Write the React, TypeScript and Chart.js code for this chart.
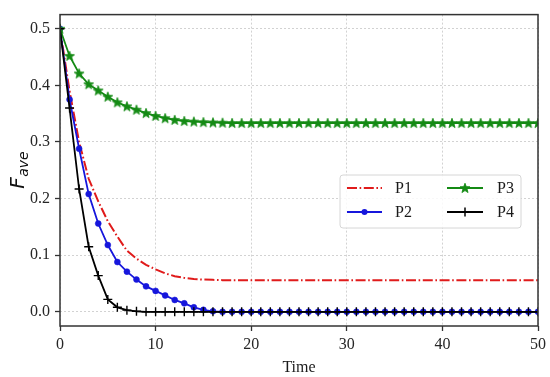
import React, { useEffect, useRef } from "react";
import { Chart, registerables } from "chart.js";

Chart.register(...registerables);

const time = [
  0, 1, 2, 3, 4, 5, 6, 7, 8, 9, 10, 11, 12, 13, 14, 15, 16, 17, 18, 19, 20, 21, 22, 23, 24, 25,
  26, 27, 28, 29, 30, 31, 32, 33, 34, 35, 36, 37, 38, 39, 40, 41, 42, 43, 44, 45, 46, 47, 48, 49, 50,
];

const p1 = [
  0.5, 0.39, 0.3, 0.235, 0.195, 0.16, 0.133, 0.108, 0.094, 0.083, 0.075, 0.068, 0.063, 0.06, 0.058,
  0.057, 0.0565, 0.056, 0.056, 0.056, 0.056, 0.056, 0.056, 0.056, 0.056, 0.056, 0.056, 0.056, 0.056,
  0.056, 0.056, 0.056, 0.056, 0.056, 0.056, 0.056, 0.056, 0.056, 0.056, 0.056, 0.056, 0.056, 0.056,
  0.056, 0.056, 0.056, 0.056, 0.056, 0.056, 0.056, 0.056,
];

const p2 = [
  0.5, 0.375, 0.288, 0.208, 0.156, 0.118, 0.088, 0.071, 0.057, 0.045, 0.037, 0.029, 0.021, 0.015,
  0.008, 0.0035, 0.001, 0, 0, 0, 0, 0, 0, 0, 0, 0, 0, 0, 0, 0, 0, 0, 0, 0, 0, 0, 0, 0, 0, 0, 0, 0,
  0, 0, 0, 0, 0, 0, 0, 0, 0,
];

const p3 = [
  0.5, 0.452, 0.421, 0.402, 0.391, 0.38, 0.37, 0.363, 0.357, 0.351, 0.346, 0.342, 0.339, 0.337,
  0.336, 0.335, 0.3345, 0.334, 0.3335, 0.3335, 0.3335, 0.3335, 0.3335, 0.3335, 0.3335, 0.3335,
  0.3335, 0.3335, 0.3335, 0.3335, 0.3335, 0.3335, 0.3335, 0.3335, 0.3335, 0.3335, 0.3335, 0.3335,
  0.3335, 0.3335, 0.3335, 0.3335, 0.3335, 0.3335, 0.3335, 0.3335, 0.3335, 0.3335, 0.3335, 0.3335,
  0.3335,
];

const p4 = [
  0.5, 0.36, 0.217, 0.115, 0.064, 0.022, 0.008, 0.003, 0.001, 0, 0, 0, 0, 0, 0, 0, 0, 0, 0, 0, 0,
  0, 0, 0, 0, 0, 0, 0, 0, 0, 0, 0, 0, 0, 0, 0, 0, 0, 0, 0, 0, 0, 0, 0, 0, 0, 0, 0, 0, 0, 0,
];

const seriesNames = ["P1", "P2", "P3", "P4"];
const xTicks = [0, 10, 20, 30, 40, 50];
const yTicks = [0.0, 0.1, 0.2, 0.3, 0.4, 0.5];
const xTitle = "Time";
const yTitleMain = "F";
const yTitleSub = "ave";

const RED = "#e01b1b";
const BLUE = "#1616dc";
const GREEN = "#148a14";
const BLACK = "#000000";
const SERIF = '"Liberation Serif", "Times New Roman", serif';
const P1_DASH = [10, 2.6, 1.6, 2.6];

function starPath(ctx: CanvasRenderingContext2D, cx: number, cy: number, ro: number, ri: number) {
  ctx.beginPath();
  for (let k = 0; k < 10; k++) {
    const r = k % 2 === 0 ? ro : ri;
    const a = -Math.PI / 2 + (k * Math.PI) / 5;
    const px = cx + r * Math.cos(a);
    const py = cy + r * Math.sin(a);
    if (k === 0) ctx.moveTo(px, py);
    else ctx.lineTo(px, py);
  }
  ctx.closePath();
}

function makeStar(color: string) {
  const c = document.createElement("canvas");
  c.width = 12;
  c.height = 12;
  const g = c.getContext("2d")!;
  starPath(g, 6, 6.4, 5.2, 2.2);
  g.fillStyle = color;
  g.fill();
  g.strokeStyle = color;
  g.lineWidth = 0.8;
  g.stroke();
  return c;
}

export default function App() {
  const ref = useRef<HTMLCanvasElement>(null);

  useEffect(() => {
    if (!ref.current) return;
    const star = makeStar(GREEN);

    const framePlugin = {
      id: "frame",
      afterDatasetsDraw(chart: any) {
        const { ctx, chartArea } = chart;
        const { left, top, right, bottom } = chartArea;
        ctx.save();
        ctx.strokeStyle = "#333333";
        ctx.lineWidth = 1.5;
        ctx.setLineDash([]);
        ctx.strokeRect(left, top, right - left, bottom - top);
        ctx.restore();
      },
    };

    const yTitlePlugin = {
      id: "ytitle",
      afterDraw(chart: any) {
        const { ctx, chartArea } = chart;
        const cy = (chartArea.top + chartArea.bottom) / 2;
        ctx.save();
        const mainFont = 'italic 20px "DejaVu Sans", sans-serif';
        const subFont = 'italic 14px "DejaVu Sans", sans-serif';
        ctx.font = mainFont;
        const wF = ctx.measureText(yTitleMain).width;
        ctx.font = subFont;
        const wS = ctx.measureText(yTitleSub).width;
        const total = wF + wS;
        ctx.translate(24, cy);
        ctx.rotate(-Math.PI / 2);
        ctx.fillStyle = "#111";
        ctx.textBaseline = "alphabetic";
        ctx.textAlign = "left";
        ctx.font = mainFont;
        ctx.fillText(yTitleMain, -total / 2, 0);
        ctx.font = subFont;
        ctx.fillText(yTitleSub, -total / 2 + wF + 0.5, 3.5);
        ctx.restore();
      },
    };

    const legendPlugin = {
      id: "customLegend",
      afterDraw(chart: any) {
        const { ctx } = chart;
        ctx.save();
        const bx = 340, by = 175, bw = 181, bh = 53, r = 3;
        ctx.beginPath();
        ctx.moveTo(bx + r, by);
        ctx.lineTo(bx + bw - r, by);
        ctx.quadraticCurveTo(bx + bw, by, bx + bw, by + r);
        ctx.lineTo(bx + bw, by + bh - r);
        ctx.quadraticCurveTo(bx + bw, by + bh, bx + bw - r, by + bh);
        ctx.lineTo(bx + r, by + bh);
        ctx.quadraticCurveTo(bx, by + bh, bx, by + bh - r);
        ctx.lineTo(bx, by + r);
        ctx.quadraticCurveTo(bx, by, bx + r, by);
        ctx.closePath();
        ctx.fillStyle = "rgba(255,255,255,0.85)";
        ctx.fill();
        ctx.strokeStyle = "#d6d6d6";
        ctx.lineWidth = 1;
        ctx.stroke();

        const rows = [188, 212];
        const lineX = [[347, 382], [447, 483]];
        const textX = [395, 497];
        const entries = [
          { name: seriesNames[0], color: RED, col: 0, row: 0, kind: "dash" },
          { name: seriesNames[1], color: BLUE, col: 0, row: 1, kind: "circle" },
          { name: seriesNames[2], color: GREEN, col: 1, row: 0, kind: "star" },
          { name: seriesNames[3], color: BLACK, col: 1, row: 1, kind: "plus" },
        ];
        entries.forEach((e) => {
          const y = rows[e.row];
          const [x1, x2] = lineX[e.col];
          const xm = (x1 + x2) / 2;
          ctx.strokeStyle = e.color;
          ctx.lineWidth = 1.8;
          ctx.setLineDash(e.kind === "dash" ? P1_DASH : []);
          ctx.beginPath();
          ctx.moveTo(x1, y);
          ctx.lineTo(x2, y);
          ctx.stroke();
          ctx.setLineDash([]);
          if (e.kind === "circle") {
            ctx.beginPath();
            ctx.arc(xm, y, 3, 0, Math.PI * 2);
            ctx.fillStyle = e.color;
            ctx.fill();
          } else if (e.kind === "star") {
            ctx.drawImage(star, xm - 6, y - 6);
          } else if (e.kind === "plus") {
            ctx.lineWidth = 1.5;
            ctx.beginPath();
            ctx.moveTo(xm, y - 4.5);
            ctx.lineTo(xm, y + 4.5);
            ctx.stroke();
          }
          ctx.fillStyle = "#1a1a1a";
          ctx.font = `16px ${SERIF}`;
          ctx.textBaseline = "middle";
          ctx.textAlign = "left";
          ctx.fillText(e.name, textX[e.col], y + 1);
        });
        ctx.restore();
      },
    };

    const toPts = (arr: number[]) => time.map((t, i) => ({ x: t, y: arr[i] }));

    const gridCommon = {
      color: "#d2d2d2",
      lineWidth: 1,
      drawTicks: true,
      tickLength: 5,
      tickColor: "#333333",
      tickWidth: 1.3,
      tickBorderDash: [],
    };

    const chart = new Chart(ref.current, {
      type: "line",
      data: {
        datasets: [
          {
            label: seriesNames[0],
            data: toPts(p1),
            borderColor: RED,
            backgroundColor: RED,
            borderWidth: 2,
            borderDash: P1_DASH,
            pointRadius: 0,
            order: 4,
          },
          {
            label: seriesNames[1],
            data: toPts(p2),
            borderColor: BLUE,
            backgroundColor: BLUE,
            borderWidth: 1.8,
            pointStyle: "circle",
            pointRadius: 3,
            pointBackgroundColor: BLUE,
            pointBorderColor: BLUE,
            pointBorderWidth: 0.5,
            order: 3,
          },
          {
            label: seriesNames[2],
            data: toPts(p3),
            borderColor: GREEN,
            backgroundColor: GREEN,
            borderWidth: 1.8,
            pointStyle: star as any,
            pointRadius: 5,
            order: 2,
          },
          {
            label: seriesNames[3],
            data: toPts(p4),
            borderColor: BLACK,
            backgroundColor: BLACK,
            borderWidth: 1.8,
            pointStyle: "cross",
            pointRadius: 4.5,
            pointBorderColor: BLACK,
            pointBorderWidth: 1.4,
            order: 1,
          },
        ],
      },
      options: {
        responsive: false,
        animation: false,
        devicePixelRatio: 1,
        events: [],
        layout: { padding: { top: 8, right: 12, left: 0, bottom: 0 } },
        plugins: { legend: { display: false }, tooltip: { enabled: false } },
        scales: {
          x: {
            type: "linear",
            min: 0,
            max: 50,
            afterBuildTicks: (s: any) => {
              s.ticks = xTicks.map((v) => ({ value: v }));
            },
            afterFit: (s: any) => {
              s.height = 51;
            },
            ticks: {
              font: { family: SERIF, size: 16 },
              color: "#262626",
              padding: 4,
              maxRotation: 0,
              autoSkip: false,
              callback: (v: any) => String(v),
            },
            grid: gridCommon,
            border: { display: false, dash: [2, 2] },
            title: { display: true, text: xTitle, font: { family: SERIF, size: 16 }, color: "#1a1a1a", padding: { top: 0, bottom: 0 } },
          },
          y: {
            type: "linear",
            min: -0.025,
            max: 0.525,
            afterBuildTicks: (s: any) => {
              s.ticks = yTicks.map((v) => ({ value: v }));
            },
            afterFit: (s: any) => {
              s.width = 60;
            },
            ticks: {
              font: { family: SERIF, size: 16 },
              color: "#262626",
              padding: 5,
              callback: (v: any) => Number(v).toFixed(1),
            },
            grid: gridCommon,
            border: { display: false, dash: [2, 2] },
          },
        },
      } as any,
      plugins: [framePlugin, yTitlePlugin, legendPlugin],
    });

    return () => chart.destroy();
  }, []);

  return (
    <div style={{ position: "fixed", left: 0, top: 0, width: 550, height: 377, background: "#fff" }}>
      <canvas ref={ref} width={550} height={377} style={{ display: "block", width: 550, height: 377 }} />
    </div>
  );
}
